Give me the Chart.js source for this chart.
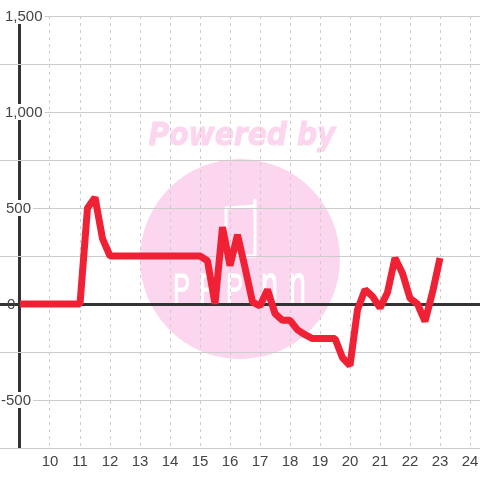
<!DOCTYPE html>
<html>
<head>
<meta charset="utf-8">
<style>
  html, body { margin: 0; padding: 0; background: #fff; }
  #wrap { width: 480px; height: 480px; }
</style>
<script src="https://cdn.jsdelivr.net/npm/chart.js@4"></script>
</head>
<body>
<div id="wrap"><canvas id="chart" width="480" height="480"></canvas></div>
<script>
// values
const hours = [9, 9.25, 9.5, 9.75, 10, 10.25, 10.5, 10.75, 11, 11.25, 11.5, 11.75, 12, 12.25, 12.5, 12.75, 13, 13.25, 13.5, 13.75, 14, 14.25, 14.5, 14.75, 15, 15.25, 15.5, 15.75, 16, 16.25, 16.5, 16.75, 17, 17.25, 17.5, 17.75, 18, 18.25, 18.5, 18.75, 19, 19.25, 19.5, 19.75, 20, 20.25, 20.5, 20.75, 21, 21.25, 21.5, 21.75, 22, 22.25, 22.5, 22.75, 23];
const amounts = [0, 0, 0, 0, 0, 0, 0, 0, 0, 500, 555, 340, 250, 250, 250, 250, 250, 250, 250, 250, 250, 250, 250, 250, 250, 225, 0, 400, 200, 360, 190, 10, -10, 75, -50, -85, -85, -135, -160, -180, -180, -180, -180, -280, -320, -30, 75, 40, -20, 60, 240, 160, 30, 0, -90, 60, 240];
const xTicks = [9, 10, 11, 12, 13, 14, 15, 16, 17, 18, 19, 20, 21, 22, 23, 24];
const yTicks = [-750, -500, -250, 0, 250, 500, 750, 1000, 1250, 1500];
const yLabelValues = [1500, 1000, 500, 0, -500];
const yLabelLeft = { '1500': 5, '1000': 5, '500': 6, '0': 7, '-500': 1 };
const logoLetters = ['P', 'P', 'P', 'n', 'n'];
const logoLetterX = [173, 199, 226, 261, 289];

const DARK = '#333333';
const GRID = '#cccccc';
const LABEL = '#444444';
const PINK = '#fcd6ee';

// watermark sits behind the grid
const watermark = {
  id: 'watermark',
  beforeDraw(chart) {
    const c = chart.ctx;
    c.save();
    c.fillStyle = PINK;
    c.strokeStyle = PINK;
    c.beginPath();
    c.arc(240, 259, 100, 0, Math.PI * 2);
    c.fill();
    c.font = 'italic bold 32px "DejaVu Sans"';
    c.textAlign = 'center';
    c.textBaseline = 'alphabetic';
    c.lineWidth = 1;
    c.fillText('Powered by', 242, 145, 187);
    c.strokeText('Powered by', 242, 145, 187);
    // phone outline
    c.strokeStyle = '#ffffff';
    c.lineWidth = 3;
    c.lineJoin = 'round';
    c.lineCap = 'round';
    c.beginPath();
    c.moveTo(255, 200);
    c.lineTo(255, 256);
    c.lineTo(226, 256);
    c.lineTo(226, 208);
    c.lineTo(255, 206);
    c.stroke();
    c.fillStyle = '#ffffff';
    c.strokeStyle = '#ffffff';
    c.lineWidth = 1;
    c.textAlign = 'left';
    logoLetters.forEach((l, i) => {
      c.font = (l === 'n' ? 56 : 42) + 'px "Liberation Sans"';
      c.fillText(l, logoLetterX[i], 303, 17);
      c.strokeText(l, logoLetterX[i], 303, 17);
    });
    c.restore();
  }
};

// y labels have uneven left edges and knock out the lines behind them
const yLabels = {
  id: 'yLabels',
  beforeDatasetsDraw(chart) {
    const c = chart.ctx, y = chart.scales.y;
    c.save();
    c.font = '15px "Liberation Sans"';
    c.textBaseline = 'middle';
    c.textAlign = 'left';
    yLabelValues.forEach(v => {
      const px = y.getPixelForValue(v);
      const txt = v.toLocaleString('en-US');
      const left = yLabelLeft[v];
      const w = c.measureText(txt).width;
      if (v !== 0) {
        c.fillStyle = '#ffffff';
        c.fillRect(0, px - 8, left + w + 2, 16);
      }
      c.fillStyle = LABEL;
      c.fillText(txt, left, px + 1);
    });
    c.restore();
  }
};

new Chart(document.getElementById('chart'), {
  type: 'line',
  data: {
    datasets: [{
      data: hours.map((h, i) => ({ x: h, y: amounts[i] })),
      borderColor: '#f02035',
      borderWidth: 7,
      borderJoinStyle: 'bevel',
      pointRadius: 0,
      tension: 0,
      clip: false
    }]
  },
  plugins: [watermark, yLabels],
  options: {
    responsive: false,
    animation: false,
    layout: { padding: { top: 16, left: 0, right: 0, bottom: 0 } },
    plugins: { legend: { display: false }, tooltip: { enabled: false } },
    scales: {
      x: {
        type: 'linear',
        min: 8 + 1 / 3,
        max: 24 + 1 / 3,
        afterBuildTicks: s => { s.ticks = xTicks.map(v => ({ value: v })); },
        afterFit: s => { s.height = 32; s.paddingLeft = 0; s.paddingRight = 0; },
        grid: {
          drawTicks: false,
          color: c => c.tick && c.tick.value === 9 ? DARK : GRID,
          lineWidth: c => c.tick && c.tick.value === 9 ? 3 : 1
        },
        border: {
          display: false,
          dash: c => c.tick && c.tick.value === 9 ? [] : [3, 4]
        },
        ticks: {
          autoSkip: false,
          maxRotation: 0,
          padding: 5,
          color: LABEL,
          font: { family: '"Liberation Sans"', size: 15 },
          callback: v => v === 9 ? '' : String(v)
        }
      },
      y: {
        min: -750,
        max: 1500,
        afterBuildTicks: s => { s.ticks = yTicks.map(v => ({ value: v })); },
        afterFit: s => { s.width = 0; s.paddingTop = 0; s.paddingBottom = 0; },
        grid: {
          drawTicks: false,
          color: c => c.tick && c.tick.value === 0 ? DARK : GRID,
          lineWidth: c => c.tick && c.tick.value === 0 ? 3 : 1
        },
        border: { display: false },
        ticks: { display: false }
      }
    }
  }
});
</script>
</body>
</html>
